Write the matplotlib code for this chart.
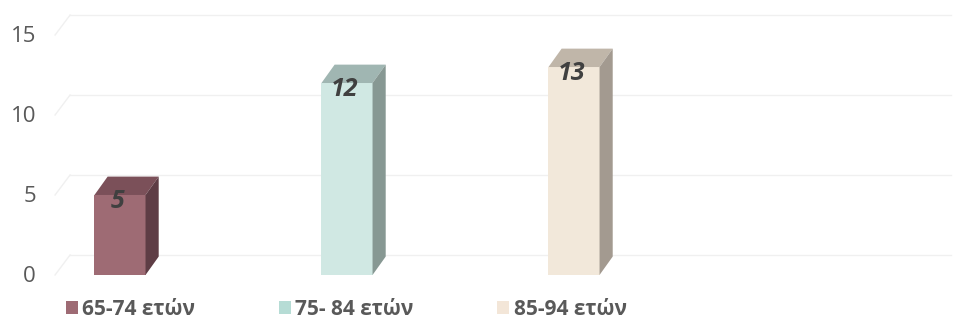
import matplotlib.pyplot as plt
from matplotlib.patches import Polygon, Patch

plt.rcParams['font.family'] = ['Open Sans', 'DejaVu Sans']

categorias = ['65-74 ετών', '75- 84 ετών', '85-94 ετών']
valores = [5, 12, 13]
ticks_y = [0, 5, 10, 15]

cor_frente = ['#9E6B74', '#D0E8E3', '#F2E8DA']
cor_topo = ['#7B5059', '#A0B6B2', '#C0B6A9']
cor_lado = ['#5E3D45', '#879893', '#A39A90']
cor_legenda = ['#9E6B74', '#B6DCD5', '#F3E6D8']

largura = 0.225
# profundidade 3D (unidades de dados)
dx_barra, dy_barra = 0.058, 1.15
dx_fundo, dy_fundo = 0.066, 1.25

fig = plt.figure(figsize=(9.64, 3.22), dpi=100)
ax = fig.add_axes([0, 0, 1, 1])
ax.set_xlim(-0.5286, 3.718)
ax.set_ylim(-2.94, 17.19)
ax.axis('off')

# grade: parede lateral + parede do fundo
x_esq = -0.286
x_dir = 3.66
for v in ticks_y:
    ax.plot([x_esq, x_esq + dx_fundo], [v, v + dy_fundo], color='#F0F0F0', lw=1.0, zorder=1)
    ax.plot([x_esq + dx_fundo, x_dir], [v + dy_fundo, v + dy_fundo], color='#F0F0F0', lw=1.0, zorder=1)
    ax.text(-0.37, v - 0.1, str(v), ha='right', va='center', fontsize=16, color='#595959')

pos = list(range(len(valores)))
ax.bar(pos, valores, width=largura, color=cor_frente, zorder=3)

for i, v in enumerate(valores):
    x0 = pos[i] - largura / 2
    x1 = pos[i] + largura / 2
    topo = Polygon([(x0, v), (x1, v), (x1 + dx_barra, v + dy_barra), (x0 + dx_barra, v + dy_barra)],
                   closed=True, facecolor=cor_topo[i], edgecolor='none', zorder=3)
    lado = Polygon([(x1, 0), (x1 + dx_barra, dy_barra), (x1 + dx_barra, v + dy_barra), (x1, v)],
                   closed=True, facecolor=cor_lado[i], edgecolor='none', zorder=3)
    ax.add_patch(topo)
    ax.add_patch(lado)
    ax.text(pos[i] - 0.01, v - 0.4, str(v), ha='center', va='center', fontsize=18,
            fontweight='bold', fontstyle='italic', color='#404040', zorder=4)

handles = [Patch(facecolor=c, edgecolor='none') for c in cor_legenda]
fig.legend(handles, categorias, loc='center left', bbox_to_anchor=(0.068, 0.04), ncol=3,
           frameon=False, prop={'size': 15, 'weight': 'bold'}, labelcolor='#595959',
           handlelength=0.6, handleheight=0.6, handletextpad=0.2, columnspacing=4.0,
           borderpad=0, borderaxespad=0)

plt.savefig('out.png', dpi=100)
